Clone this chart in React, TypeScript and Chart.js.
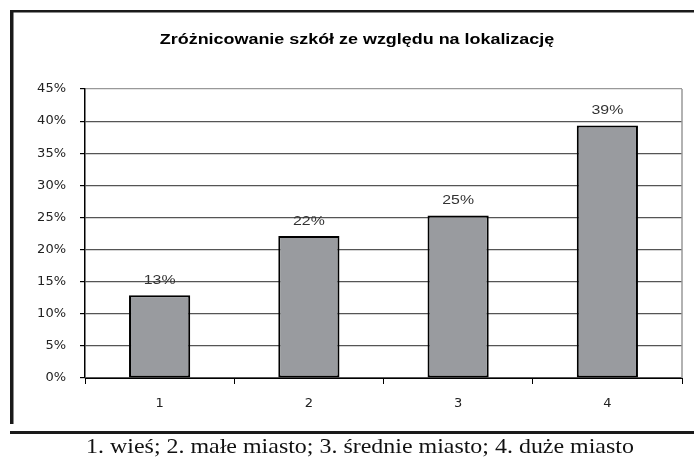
import React, { useEffect, useRef } from "react";
import { Chart, registerables } from "chart.js";

Chart.register(...registerables);

const titleText = "Zróżnicowanie szkół ze względu na lokalizację";
const captionText = "1. wieś; 2. małe miasto; 3. średnie miasto; 4. duże miasto";
const categories = ["1", "2", "3", "4"];
const values = [12.9, 22.1, 25.3, 39.3];
const valueLabels = ["13%", "22%", "25%", "39%"];
const yMin = 0;
const yMax = 45;
const yStep = 5;

function stretchedText(ctx: any, text: string, x: number, y: number, sx: number) {
  ctx.save();
  ctx.translate(x, y);
  ctx.scale(sx, 1);
  ctx.fillText(text, 0, 0);
  ctx.restore();
}

const decorPlugin = {
  id: "decor",
  beforeDraw(chart: any) {
    const ctx = chart.ctx;
    ctx.save();
    ctx.fillStyle = "#ffffff";
    ctx.fillRect(0, 0, chart.width, chart.height);
    // outer frame
    ctx.fillStyle = "#1a1a1a";
    ctx.fillRect(10, 10, chart.width - 10, 2.5);
    ctx.fillRect(10, 10, 3.5, 424 - 10);
    ctx.fillRect(10, 431, chart.width - 10, 3);
    ctx.restore();
  },
  afterDatasetsDraw(chart: any) {
    const ctx = chart.ctx;
    const area = chart.chartArea;
    ctx.save();
    // right plot border
    ctx.strokeStyle = "#999999";
    ctx.lineWidth = 1.5;
    ctx.beginPath();
    ctx.moveTo(area.right, area.top);
    ctx.lineTo(area.right, area.bottom);
    ctx.stroke();
    // data labels
    const meta = chart.getDatasetMeta(0);
    ctx.fillStyle = "#333333";
    ctx.font = '13px "Liberation Sans", Arial, sans-serif';
    ctx.textAlign = "center";
    ctx.textBaseline = "middle";
    meta.data.forEach((bar: any, i: number) => {
      stretchedText(ctx, valueLabels[i], bar.x, bar.y - 15, 1.22);
    });
    // title
    ctx.fillStyle = "#000000";
    ctx.font = 'bold 14px "Liberation Sans", Arial, sans-serif';
    stretchedText(ctx, titleText, 357, 40, 1.28);
    // caption
    ctx.font = '21px "Liberation Serif", "Times New Roman", serif';
    ctx.fillStyle = "#111111";
    stretchedText(ctx, captionText, 360, 447, 1.14);
    ctx.restore();
  },
};

export default function App() {
  const canvasRef = useRef<HTMLCanvasElement | null>(null);

  useEffect(() => {
    document.body.style.margin = "0";
    const canvas = canvasRef.current;
    if (!canvas) return;
    const chart = new Chart(canvas, {
      type: "bar",
      data: {
        labels: categories,
        datasets: [
          {
            data: values,
            backgroundColor: "#999b9f",
            borderColor: "#000000",
            borderWidth: 2,
            borderSkipped: false,
            categoryPercentage: 1,
            barPercentage: 0.41,
          },
        ],
      },
      options: {
        responsive: false,
        animation: false,
        devicePixelRatio: 1,
        layout: { padding: { left: 10, right: 12, top: 89, bottom: 0 } },
        plugins: {
          legend: { display: false },
          title: { display: false },
          tooltip: { enabled: false },
        },
        scales: {
          x: {
            offset: true,
            grid: {
              offset: true,
              drawOnChartArea: false,
              drawTicks: true,
              tickLength: 6,
              tickColor: "#000000",
            },
            border: { color: "#000000", width: 1 },
            ticks: {
              color: "#222222",
              padding: 12,
              font: { family: '"DejaVu Sans", sans-serif', size: 13 },
            },
            afterFit(scale: any) {
              scale.height = 81;
            },
          },
          y: {
            min: yMin,
            max: yMax,
            ticks: {
              stepSize: yStep,
              color: "#222222",
              padding: 14,
              font: { family: '"DejaVu Sans", sans-serif', size: 13 },
              callback: (v: any) => v + "%",
            },
            grid: {
              color: (c: any) => (c.tick && c.tick.value === yMax ? "#999999" : "#555555"),
              lineWidth: 1.2,
              tickLength: 5,
              tickColor: "#000000",
            },
            border: { color: "#000000", width: 1.5 },
            afterFit(scale: any) {
              scale.width = 75;
            },
          },
        },
      },
      plugins: [decorPlugin],
    });
    return () => chart.destroy();
  }, []);

  return (
    <div style={{ position: "absolute", left: 0, top: 0, width: 694, height: 459 }}>
      <canvas ref={canvasRef} width={694} height={459} style={{ display: "block" }} />
    </div>
  );
}
